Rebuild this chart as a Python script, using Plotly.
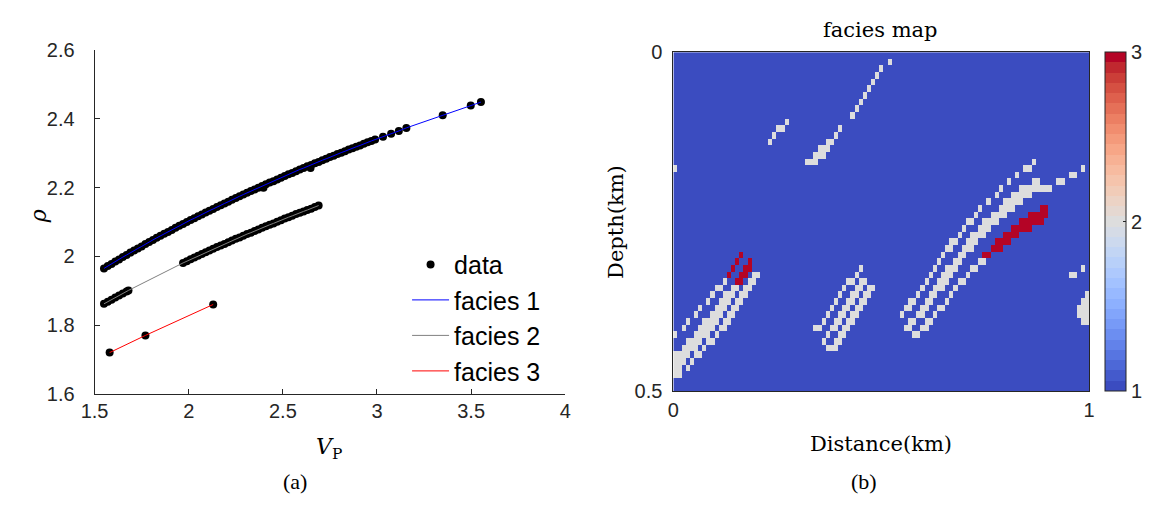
import numpy as np
import plotly.graph_objects as go

# ---------------- panel (a): rho vs Vp ----------------
F1_VP = [1.55, 1.57, 1.59, 1.61, 1.63, 1.65, 1.67, 1.69, 1.71, 1.73,
         1.75, 1.77, 1.79, 1.81, 1.83, 1.85, 1.87, 1.89, 1.91, 1.93,
         1.95, 1.97, 1.99, 2.01, 2.03, 2.05, 2.07, 2.09, 2.11, 2.13,
         2.15, 2.17, 2.19, 2.21, 2.23, 2.25, 2.27, 2.29, 2.31, 2.33,
         2.35, 2.37, 2.39, 2.41, 2.43, 2.45, 2.47, 2.49, 2.51, 2.53,
         2.55, 2.57, 2.59, 2.61, 2.63, 2.65, 2.67, 2.69, 2.71, 2.73,
         2.75, 2.77, 2.79, 2.81, 2.83, 2.85, 2.87, 2.89, 2.91, 2.93,
         2.95, 2.97, 2.99,
         3.032, 3.075, 3.116, 3.156, 3.349, 3.498, 3.552]
F1_RHO = [1.965, 1.972, 1.978, 1.985, 1.991, 1.998, 2.004, 2.011, 2.017, 2.023,
          2.029, 2.036, 2.042, 2.048, 2.054, 2.060, 2.066, 2.071, 2.077, 2.083,
          2.089, 2.094, 2.100, 2.106, 2.111, 2.117, 2.122, 2.128, 2.133, 2.138,
          2.144, 2.149, 2.154, 2.159, 2.165, 2.170, 2.175, 2.180, 2.185, 2.190,
          2.195, 2.200, 2.205, 2.210, 2.215, 2.219, 2.224, 2.229, 2.234, 2.239,
          2.243, 2.248, 2.253, 2.257, 2.262, 2.266, 2.271, 2.275, 2.280, 2.284,
          2.289, 2.293, 2.298, 2.302, 2.306, 2.311, 2.315, 2.319, 2.323, 2.328,
          2.332, 2.336, 2.340,
          2.348, 2.357, 2.365, 2.374, 2.411, 2.439, 2.449]

F2_VP = [1.55, 1.57, 1.59, 1.61, 1.63, 1.65, 1.67, 1.68,
         1.97, 1.99, 2.01, 2.03, 2.05, 2.07, 2.09, 2.11, 2.13, 2.15,
         2.17, 2.19, 2.21, 2.23, 2.25, 2.27, 2.29, 2.31, 2.33, 2.35,
         2.37, 2.39, 2.41, 2.43, 2.45, 2.47, 2.49, 2.51, 2.53, 2.55,
         2.57, 2.59, 2.61, 2.63, 2.65, 2.67, 2.69]
F2_RHO = [1.862, 1.868, 1.874, 1.880, 1.886, 1.892, 1.898, 1.901,
          1.981, 1.986, 1.992, 1.997, 2.002, 2.007, 2.012, 2.017, 2.022, 2.027,
          2.032, 2.036, 2.041, 2.046, 2.051, 2.055, 2.060, 2.065, 2.069, 2.074,
          2.078, 2.083, 2.088, 2.092, 2.096, 2.101, 2.105, 2.110, 2.114, 2.118,
          2.123, 2.127, 2.131, 2.135, 2.139, 2.144, 2.148]

F3_VP = [1.580, 1.770, 2.130]
F3_RHO = [1.720, 1.770, 1.860]

# scattered samples lying just off the facies-1 trend
EXTRA_VP = [2.397, 2.647]
EXTRA_RHO = [2.200, 2.257]

VP_TICKS = [1.5, 2, 2.5, 3, 3.5, 4]
RHO_TICKS = [1.6, 1.8, 2.0, 2.2, 2.4, 2.6]

# ---------------- panel (b): facies map ----------------
N_DEPTH, N_DIST = 51, 101
DIST_RANGE_KM = [0, 1]
DEPTH_RANGE_KM = [0, 0.5]
FACIES_LEVELS = [1, 2, 3]

# (row, first column, last column) runs; background facies is 1
FACIES2_RUNS = [
    (1, 52, 52), (2, 50, 50), (3, 49, 49), (4, 48, 48), (5, 47, 47),
    (6, 46, 46), (7, 45, 45), (8, 44, 44), (9, 43, 43),
    (10, 27, 27), (11, 25, 26), (12, 24, 24), (13, 23, 23),
    (11, 40, 40), (12, 39, 39), (13, 37, 38), (14, 35, 37), (15, 34, 36), (16, 32, 34),
    (17, 0, 0),
    (16, 87, 87), (17, 85, 86), (18, 83, 83), (19, 81, 81), (20, 79, 79),
    (21, 78, 78), (22, 76, 76), (23, 74, 74), (24, 73, 73), (25, 71, 72),
    (26, 70, 70), (27, 69, 69), (28, 67, 68), (29, 66, 67), (30, 65, 65),
    (31, 64, 64), (32, 63, 63), (33, 62, 62), (34, 61, 61), (35, 60, 60),
    (36, 59, 59), (37, 57, 58), (38, 56, 57), (39, 55, 55),
    (19, 87, 88), (20, 84, 91), (21, 82, 86), (22, 80, 84), (23, 79, 82),
    (24, 77, 80), (25, 75, 78), (26, 74, 76), (27, 72, 75), (28, 71, 73),
    (29, 70, 72), (30, 69, 70), (31, 68, 69), (32, 66, 68), (33, 65, 67),
    (34, 64, 66), (35, 63, 65), (36, 62, 63), (37, 61, 62), (38, 60, 61),
    (39, 59, 60), (40, 57, 58), (41, 56, 57),
    (31, 74, 75), (32, 72, 73), (33, 71, 71), (34, 69, 70), (35, 68, 68),
    (36, 67, 67), (37, 66, 66), (38, 64, 65), (39, 63, 63), (40, 61, 62),
    (41, 60, 61), (42, 58, 59),
    (17, 99, 99), (18, 96, 97), (19, 93, 94),
    (32, 99, 99), (33, 96, 97), (36, 100, 100), (37, 99, 100), (38, 98, 100),
    (39, 98, 100), (40, 99, 100),
    (32, 45, 45), (33, 44, 44), (34, 42, 43), (34, 45, 46), (35, 41, 41),
    (35, 44, 45), (35, 47, 48), (36, 40, 40), (36, 43, 44), (36, 46, 47),
    (37, 39, 39), (37, 42, 43), (37, 45, 46), (38, 38, 38), (38, 41, 42),
    (38, 44, 45), (39, 37, 37), (39, 40, 41), (39, 43, 44), (40, 36, 36),
    (40, 39, 40), (40, 42, 43), (41, 34, 35), (41, 38, 39), (41, 41, 42),
    (42, 37, 37), (42, 40, 41), (43, 36, 36), (43, 39, 40), (44, 37, 39),
    (33, 19, 20), (34, 12, 12), (34, 18, 19), (35, 10, 11), (35, 14, 15),
    (35, 17, 18), (36, 9, 9), (36, 12, 14), (36, 16, 17), (37, 8, 8),
    (37, 11, 13), (37, 15, 16), (38, 6, 6), (38, 10, 12), (38, 14, 15),
    (39, 5, 5), (39, 9, 11), (39, 13, 14), (40, 3, 3), (40, 7, 10),
    (40, 12, 13), (41, 2, 2), (41, 6, 9), (41, 11, 12), (42, 0, 0),
    (42, 5, 8), (42, 10, 10), (43, 3, 6), (43, 8, 9), (44, 2, 5),
    (44, 7, 7), (45, 0, 3), (45, 5, 6), (46, 0, 2), (46, 4, 4),
    (47, 0, 1), (47, 3, 3), (48, 0, 1),
]
FACIES3_RUNS = [
    (23, 89, 90), (24, 86, 90), (25, 84, 89), (26, 82, 86), (27, 80, 83),
    (28, 78, 81), (29, 77, 79), (30, 75, 76),
    (30, 16, 16), (31, 15, 15), (31, 18, 18), (32, 14, 14), (32, 17, 18),
    (33, 13, 13), (33, 16, 17), (34, 15, 16),
]

facies = np.full((N_DEPTH, N_DIST), FACIES_LEVELS[0], dtype=float)
for level, runs in ((FACIES_LEVELS[1], FACIES2_RUNS), (FACIES_LEVELS[2], FACIES3_RUNS)):
    for row, c0, c1 in runs:
        facies[row, c0:c1 + 1] = level

# cell centres so the image spans the full distance / depth range
dx = (DIST_RANGE_KM[1] - DIST_RANGE_KM[0]) / N_DIST
dz = (DEPTH_RANGE_KM[1] - DEPTH_RANGE_KM[0]) / N_DEPTH
dist_centres = DIST_RANGE_KM[0] + (np.arange(N_DIST) + 0.5) * dx
depth_centres = DEPTH_RANGE_KM[0] + (np.arange(N_DEPTH) + 0.5) * dz

# stepped "coolwarm" colour map
COOLWARM = [
    (59, 76, 192), (68, 90, 204), (77, 104, 215), (87, 117, 225), (98, 130, 234),
    (108, 142, 241), (119, 154, 247), (130, 165, 251), (141, 176, 254), (152, 185, 255),
    (163, 194, 255), (174, 201, 253), (184, 208, 249), (194, 213, 244), (204, 217, 238),
    (213, 219, 230), (221, 221, 221), (229, 216, 209), (236, 211, 197), (241, 204, 184),
    (245, 196, 172), (247, 187, 160), (247, 177, 148), (247, 166, 135), (244, 154, 123),
    (241, 141, 111), (236, 127, 99), (229, 112, 88), (222, 96, 77), (213, 80, 66),
    (203, 62, 56), (192, 40, 47), (180, 4, 38),
]
nb = len(COOLWARM)
colorscale = []
for k, (r, g, b) in enumerate(COOLWARM):
    c = f"rgb({r},{g},{b})"
    colorscale.append([k / nb, c])
    colorscale.append([(k + 1) / nb, c])

# ---------------- figure ----------------
W, H = 1154, 512
AX_COLOR = "#262626"
SANS = "Liberation Sans, Arial, sans-serif"
SERIF = "DejaVu Serif, serif"


def px(x):
    return x / W


def py(y):
    return 1 - y / H


fig = go.Figure()

all_vp = F1_VP + EXTRA_VP + F2_VP + F3_VP
all_rho = F1_RHO + EXTRA_RHO + F2_RHO + F3_RHO
fig.add_trace(go.Scatter(x=all_vp, y=all_rho, mode="markers", name="data",
                         marker=dict(color="black", size=8),
                         xaxis="x", yaxis="y"))
fig.add_trace(go.Scatter(x=F1_VP, y=F1_RHO, mode="lines", name="facies 1",
                         line=dict(color="#0000ff", width=1),
                         xaxis="x", yaxis="y"))
fig.add_trace(go.Scatter(x=F2_VP, y=F2_RHO, mode="lines", name="facies 2",
                         line=dict(color="#808080", width=1),
                         xaxis="x", yaxis="y"))
fig.add_trace(go.Scatter(x=F3_VP, y=F3_RHO, mode="lines", name="facies 3",
                         line=dict(color="#ff0000", width=1),
                         xaxis="x", yaxis="y"))

fig.add_trace(go.Heatmap(
    z=facies, x=dist_centres, y=depth_centres,
    zmin=FACIES_LEVELS[0], zmax=FACIES_LEVELS[-1],
    colorscale=colorscale, showlegend=False, hoverinfo="skip",
    xaxis="x2", yaxis="y2",
    colorbar=dict(
        x=px(1110), xanchor="left", y=py(220), yanchor="middle",
        len=354 / H, lenmode="fraction", thickness=21, thicknessmode="pixels",
        outlinecolor=AX_COLOR, outlinewidth=1,
        tickvals=FACIES_LEVELS, ticks="inside", ticklen=3, tickcolor=AX_COLOR,
        tickfont=dict(family=SANS, size=20, color=AX_COLOR),
        xpad=0, ypad=0,
    ),
))

axis_common = dict(showgrid=False, zeroline=False, showline=True,
                   linecolor=AX_COLOR, linewidth=1, ticks="inside",
                   tickcolor=AX_COLOR, tickfont=dict(family=SANS, size=20, color=AX_COLOR))

fig.update_layout(
    width=W, height=H,
    margin=dict(l=0, r=0, t=0, b=0),
    paper_bgcolor="white", plot_bgcolor="white",
    xaxis=dict(domain=[px(82), px(561)], range=[1.5, 4], tickvals=VP_TICKS,
               ticklen=5, anchor="y", ticklabelstandoff=-1, **axis_common),
    yaxis=dict(domain=[py(400), py(41)], range=[1.6, 2.6], tickvals=RHO_TICKS,
               ticklen=5, anchor="x", ticklabelstandoff=15, **axis_common),
    xaxis2=dict(domain=[px(671), px(1094)], range=DIST_RANGE_KM, tickvals=DIST_RANGE_KM,
                ticklen=4, anchor="y2", mirror="ticks", ticklabelstandoff=1, **axis_common),
    yaxis2=dict(domain=[py(397), py(43)], range=DEPTH_RANGE_KM[::-1], tickvals=DEPTH_RANGE_KM,
                ticklen=4, anchor="x2", mirror="ticks", ticklabelstandoff=6, **axis_common),
    legend=dict(x=px(400), y=py(241), xanchor="left", yanchor="top",
                bgcolor="rgba(0,0,0,0)", borderwidth=0, itemwidth=37,
                font=dict(family=SANS, size=25, color="black")),
    showlegend=True,
)

labels = [
    ("<i>ρ</i>", 25, 215, -90, SERIF, 22),
    ("<i>V</i><sub>P</sub>", 321, 457, 0, SERIF, 22),
    ("(a)", 286, 492, 0, "Liberation Serif, serif", 22),
    ("facies map", 882, 20, 0, SERIF, 21),
    ("Distance(km)", 882, 452, 0, SERIF, 21),
    ("Depth(km)", 612, 220, -90, SERIF, 21),
    ("(b)", 865, 492, 0, "Liberation Serif, serif", 22),
]
for text, x, y, ang, fam, size in labels:
    fig.add_annotation(text=text, x=px(x), y=py(y), xref="paper", yref="paper",
                       xanchor="center", yanchor="middle", showarrow=False,
                       textangle=ang, font=dict(family=fam, size=size, color="black"))

# the page itself should add no border around the fixed-size figure
fig.write_html("out.html",
               post_script="document.body.style.margin='0';document.body.style.overflow='hidden';")
